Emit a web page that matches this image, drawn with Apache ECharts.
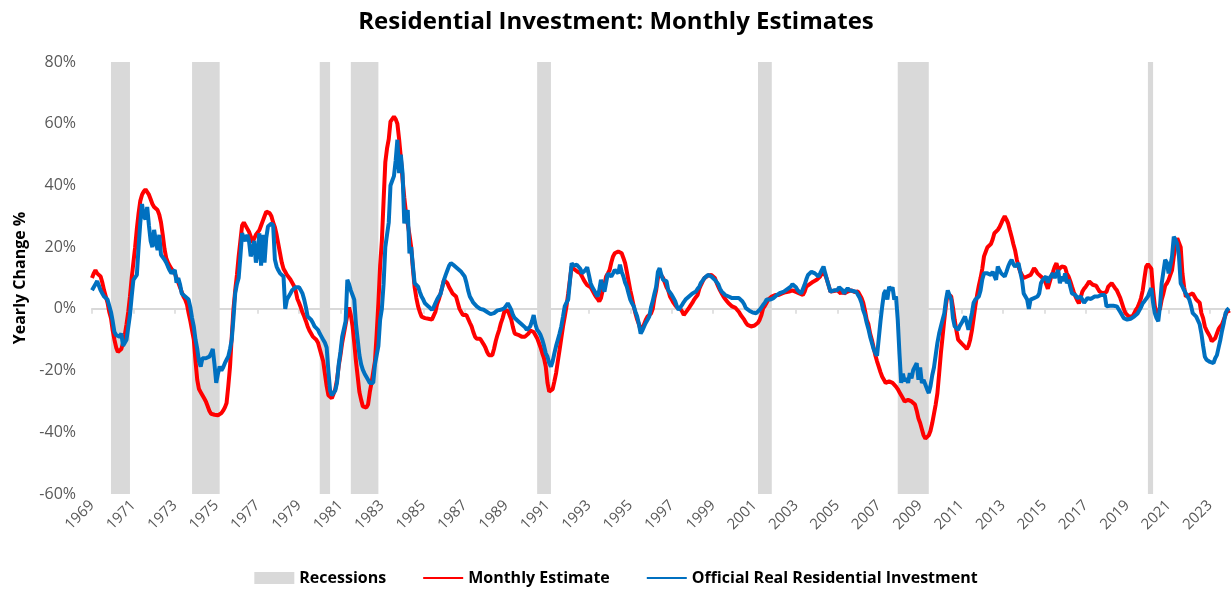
<!DOCTYPE html>
<html>
<head>
<meta charset="utf-8">
<script src="https://cdn.jsdelivr.net/npm/echarts@6/dist/echarts.min.js"></script>
<style>
  html, body { margin: 0; padding: 0; background: #fff; }
  #chart { width: 1232px; height: 591px; }
</style>
</head>
<body>
<div id="chart"></div>
<script>
// first and last year shown, monthly points
const firstYear = 1969;
const lastYear = 2023;

// NBER recessions, shaded
const recessions = [
  ['1969-12', '1970-11'],
  ['1973-11', '1975-03'],
  ['1980-01', '1980-07'],
  ['1981-07', '1982-11'],
  ['1990-07', '1991-03'],
  ['2001-03', '2001-11'],
  ['2007-12', '2009-06'],
  ['2020-01', '2020-04']
];

// yearly change %, one row per year (Jan..Dec)
const monthlyEstimate = [
  10, 11.5, 12.5, 11.5, 11, 10.5, 8.5, 6, 4, 2, -1, -3,                  // 1969
  -7, -10, -12.5, -14, -14.4, -13, -11, -8.5, -5, -1, 4, 10,             // 1970
  15, 20, 26, 31, 35, 37, 38, 38.7, 38.5, 37, 35.5, 34,                  // 1971
  33, 32.5, 32, 30.5, 28, 24, 19.5, 16.5, 15, 14, 13, 12.5,              // 1972
  11.5, 10, 8.5, 7, 5.5, 4, 3, 1.5, -1.4, -4, -7, -10,                   // 1973
  -17, -23, -26, -27, -28, -29, -30, -31.5, -33, -34, -34.3, -34.3,      // 1974
  -34.3, -34.5, -34.3, -33.8, -33, -32, -30.5, -25, -18.7, -9, 0, 6,     // 1975
  11, 17, 22, 27, 28, 27.5, 26, 25, 23.5, 21.5, 22, 24,                  // 1976
  24.5, 25.5, 27, 28.5, 30, 31.5, 32, 31, 30, 28, 26.5, 24,              // 1977
  21, 18, 15, 13, 12, 11, 10.5, 9.5, 9, 7.5, 6, 3.3,                     // 1978
  2, 0.5, -1.2, -2.5, -4, -5.7, -7, -8, -9, -9.5, -10, -11,              // 1979
  -13, -15, -17, -21, -25, -28, -28.6, -29, -27.5, -26, -23, -18.5,      // 1980
  -15, -11, -8, -5, -2, 0.5, -2, -5.5, -11, -17, -22, -27,               // 1981
  -29.5, -31.6, -32, -32, -31, -27, -24, -20.5, -17, -8, 2, 14,          // 1982
  22, 35, 47.5, 52, 55, 60.7, 61.5, 62.3, 61.5, 60, 55, 49,              // 1983
  42, 36, 31, 27.5, 24, 20, 13, 7, 3.5, 0.8, -1, -2.5,                   // 1984
  -2.7, -3, -3, -3.2, -3.5, -3.5, -3, -1, 1.5, 3, 5, 7,                  // 1985
  9.4, 9, 8.3, 7, 6, 5, 4.5, 4, 2, 0, -1, -2,                            // 1986
  -1.4, -2, -2.5, -4.5, -5.7, -7.5, -9, -9.7, -10, -9.7, -9.5, -11.5,    // 1987
  -12.5, -14, -15, -15, -15, -13, -10.5, -8.5, -6.8, -4.6, -3, -0.9,     // 1988
  -0.3, -0.5, -2, -3.5, -6, -8, -8.2, -8.4, -8.8, -9, -9.3, -9,          // 1989
  -8.5, -8, -7, -6.8, -7.5, -8, -9.5, -11, -12.5, -14.4, -16, -18.7,     // 1990
  -24, -26.8, -26.5, -26, -23.5, -20.8, -17, -13.3, -9.5, -5.7, -2.5, 0.8, // 1991
  5, 9.4, 13.7, 13, 12.6, 12.2, 11.8, 11.5, 10.5, 9.4, 8.5, 7.7,         // 1992
  7.3, 7, 6, 5, 4, 3.3, 2.4, 3.5, 6, 8, 10.5, 11.5,                      // 1993
  12.6, 15, 17, 18, 18.6, 18.6, 18.3, 18, 16.5, 14.8, 12, 9,             // 1994
  6, 3.5, 0.8, -1.5, -3.5, -5, -6.8, -6, -5, -3.5, -2.5, -2,             // 1995
  -1.5, 0, 3.5, 6, 10, 11.5, 11.5, 10, 8.5, 7, 6, 4,                     // 1996
  3, 2, 1.2, 0.5, 0.2, 0, -0.8, -2, -1.5, -0.5, 0.3, 0.8,                // 1997
  2, 3, 3.8, 4.5, 6.5, 7.8, 9, 10, 10.5, 10.8, 11, 11,                   // 1998
  10.5, 10, 8.5, 7.2, 6, 5, 4, 3.2, 2.5, 1.8, 1.2, 0.8,                  // 1999
  0.8, 0.3, -0.3, -1, -2, -2.5, -3.5, -4.5, -5.2, -5.5, -5.7, -5.5,      // 2000
  -5.4, -5.2, -4.5, -3.5, -2, 0.2, 1, 2, 3, 3.5, 4, 4.5,                 // 2001
  4.5, 4.5, 4.5, 4.8, 5, 5.2, 5.4, 5.6, 5.6, 5.8, 6, 5.8,                // 2002
  5.5, 5, 5, 4.5, 4.5, 5.5, 7.2, 7.5, 8, 8.3, 8.8, 9.4,                  // 2003
  9.4, 9.4, 10.5, 11.5, 12, 11, 9.4, 7.5, 5.6, 5.6, 5.8, 6,              // 2004
  6, 5.5, 5, 6, 5, 4.5, 5.6, 6, 6, 6, 5.5, 5.5,                          // 2005
  5.6, 5, 3.5, 2, -0.5, -3.5, -5, -8, -10, -12.5, -15, -17,              // 2006
  -18.7, -20.5, -22, -23, -24, -23.8, -23.5, -23.8, -24, -24.5, -25.2, -26, // 2007
  -27, -27.5, -29, -30, -29.7, -29.5, -30, -30, -30.5, -31, -33, -35.5,  // 2008
  -37, -39, -41, -42, -42.4, -41, -39.5, -37, -34, -31, -27.3, -21,      // 2009
  -14.4, -9, -3.5, 1.5, 5, 5.5, 4, 0.5, -3.5, -7, -10, -10.5,            // 2010
  -11.2, -11.7, -12.3, -13, -12, -10, -7, -3, 1, 4.5, 7.5, 10,           // 2011
  13, 17, 18.5, 20, 20.5, 21, 22.5, 24.5, 25, 25.6, 26.5, 27.7,          // 2012
  29, 30, 29, 27.7, 25.5, 23.4, 21, 19, 16, 13.7, 12, 11,                // 2013
  10, 10, 10.5, 10.5, 11, 12, 13.2, 12.5, 11.5, 11, 10.5, 10,            // 2014
  9.5, 8.9, 6.5, 7, 10.5, 12, 13.7, 14.8, 12.6, 13, 13.7, 13.5,          // 2015
  13.5, 11.5, 10.5, 9, 7.2, 5.5, 4, 2.8, 1.8, 3.5, 5.6, 6.5,             // 2016
  7.2, 8, 8.9, 8.3, 7.8, 7.8, 7.5, 6.5, 5.6, 5.3, 5, 5,                  // 2017
  5.5, 7.2, 7.8, 8.3, 7.5, 6.7, 6, 5.6, 3.5, 1.8, 0, -1.4,               // 2018
  -2, -2.5, -2.5, -2.5, -1.5, -0.3, 0.5, 1.8, 3.5, 6, 10, 13.7,          // 2019
  14.5, 14.8, 13, 6, 1, -1.4, -1.4, 0, 3, 5, 7.5, 8.3,                   // 2020
  9.4, 11, 12.6, 17, 21, 22.9, 22.5, 20, 11.5, 7, 4, 4.3,                // 2021
  4.5, 4.8, 5, 4, 3, 3, 2, -1.4, -3, -5.7, -7, -8,                       // 2022
  -9, -10.5, -11, -9.5, -8, -6.5, -5.7, -5, -4.6, -2, -0.3, -1.4         // 2023
];

const officialRRI = [
  6, 6.5, 8, 9, 7.5, 6, 5, 4, 3.5, 3, 1, -1,                             // 1969
  -4, -7.5, -8.5, -9, -9, -8, -12, -12.5, -10, -6, -2, 4,                // 1970
  9.4, 9.4, 11, 20, 28, 34, 30, 29, 33, 27, 22, 20,                      // 1971
  25.6, 22, 19, 24, 17.5, 17, 16, 15, 13.7, 12.5, 11.5, 12,              // 1972
  12.6, 8.5, 10, 8, 5, 4.5, 4, 3.5, 3, 0.5, -3, -5.7,                    // 1973
  -10, -13, -17, -18.7, -16, -15.4, -16, -16.5, -15.5, -14.5, -13, -18,  // 1974
  -24, -21, -18.7, -20, -19, -17.6, -16.5, -15.4, -13, -10, -3, 5,       // 1975
  8, 10, 17, 24.5, 23, 22, 24, 22, 17, 19, 22, 15,                       // 1976
  18, 24.5, 14, 24, 15, 23, 26.7, 27, 27.7, 27, 16, 13.7,                // 1977
  12.5, 11.5, 11, 10.5, 0, 3, 4, 5, 6, 6.5, 7, 7.2,                      // 1978
  7, 6, 5, 3, 0.5, -2.5, -3, -3.5, -4.5, -5.7, -6, -6.8,                 // 1979
  -8, -9, -10, -11, -12.5, -20, -26.5, -28, -28.4, -26.5, -24, -18,      // 1980
  -14, -9, -9.5, -4, 9.4, 8, 6, 4.5, 3, -5, -10, -15,                    // 1981
  -18, -19.8, -21, -22, -23, -24, -24, -24, -18, -17.6, -12, -3.5,       // 1982
  0, 8, 20, 24, 28, 40, 41.5, 43, 48, 54.8, 44, 50,                      // 1983
  44, 27.7, 30, 32, 18, 20, 14, 8.3, 7.8, 7.2, 5.5, 4,                   // 1984
  3, 1.8, 1.2, 0.8, 0.3, -0.3, 0.5, 1.8, 3, 4, 4.8, 5,                   // 1985
  9.4, 11, 12.5, 14, 14.8, 14.5, 14, 13.7, 13, 12.6, 12, 11.5,           // 1986
  10.5, 8.5, 6, 4, 3, 2, 1.5, 0.8, 0.2, 0, -0.3, -0.3,                   // 1987
  -0.5, -1, -1.4, -1.7, -2, -1.4, -0.9, -0.5, -0.3, -0.3, -0.2, 0.2,     // 1988
  1, 1.8, 0.8, -0.3, -2, -3, -3.5, -4, -4.5, -5, -5.5, -6,               // 1989
  -6.8, -6.5, -5.7, -4, -2, -5, -6.8, -7.5, -8.5, -10, -12, -14.4,       // 1990
  -15.5, -17.6, -18.7, -17, -14.4, -12, -10, -8, -5.7, -2.5, 0.8, 2,     // 1991
  3, 9, 14.8, 14, 13.7, 14.3, 14.8, 13, 11.5, 12, 12.6, 13.5,            // 1992
  11, 8.3, 7, 6, 5, 4, 6, 9.4, 7.5, 5.6, 8.5, 11.5,                      // 1993
  11, 10.5, 11.5, 12.6, 12, 11.5, 14.3, 12, 10.5, 8.5, 7.2, 5,           // 1994
  3, 1.8, 0.8, -1, -2.5, -5, -8, -7, -5.7, -4.5, -3.5, -2.5,             // 1995
  0.5, 2.5, 5, 7.2, 12, 13.2, 11, 9.4, 9.2, 9, 6, 5.3,                   // 1996
  4.5, 3.5, 2.5, 0.8, -0.3, 0.5, 1.3, 2.2, 3, 3.5, 4, 4.5,               // 1997
  5, 5.3, 5.6, 6.5, 7.2, 8.5, 9.2, 10, 10.5, 11, 11.5, 10.5,             // 1998
  10, 9.4, 9.4, 8, 6.5, 5.6, 5, 4.5, 4.2, 4, 3.8, 3.5,                   // 1999
  3.5, 3.5, 3.5, 3.5, 3, 2.4, 1.5, 0.2, -0.3, -0.6, -0.9, -1.2,          // 2000
  -1.4, -1.4, -0.8, -0.3, 0.5, 1.3, 2, 3, 3, 3, 3, 3.5,                  // 2001
  4, 4.5, 5, 5.2, 5.4, 5.6, 6, 6.4, 6.7, 7.2, 8, 8.3,                    // 2002
  7, 6, 5.5, 5, 5.5, 7.8, 9.5, 11, 11.5, 12, 11.8, 11.5,                 // 2003
  11.5, 10.5, 11.5, 12.6, 13.7, 11.5, 9.4, 7.5, 5.6, 5.8, 6, 6.5,        // 2004
  6, 7, 7.2, 6, 5, 6, 6.7, 6, 5.6, 5.8, 6, 5.5,                          // 2005
  4.5, 3.5, 2, -0.5, -2, -4.5, -6.5, -9, -11, -13, -14.3, -15.2,         // 2006
  -15, -4, 0.8, 5, 6, 3, 7.2, 6, 7, 3, 4, -3.5,                          // 2007
  -14.4, -24, -21, -23.5, -22.5, -24, -20.8, -22.5, -19.8, -20, -17.6, -23, // 2008
  -19, -24, -23, -24.5, -26, -27.3, -25, -21.5, -19, -15, -11, -8,       // 2009
  -5.7, -3.5, -1.4, 3, 6, 5.5, 3, -3, -5.7, -6.3, -6.8, -5.5,            // 2010
  -4.6, -3.5, -2.5, -4.5, -6.8, -4, -1.4, 2, 3, 3.5, 4, 6,               // 2011
  9.5, 11.5, 11.5, 11.5, 11.2, 11, 12, 12.6, 9.4, 13.7, 12.5, 11.5,      // 2012
  11, 10.5, 12, 13.7, 15, 15.9, 14.5, 13.7, 14.3, 14.8, 12, 9.4,         // 2013
  5, 4, 3, 0, 3, 3, 3.5, 3.5, 4, 5, 8.3, 9.4,                            // 2014
  9.8, 10.5, 8.5, 10, 10.8, 11.5, 10, 9.4, 12.6, 8.3, 10.5, 9,           // 2015
  11.5, 8.3, 9.4, 7.2, 5, 5, 4.5, 3.5, 3.5, 4, 4.5, 2,                   // 2016
  2, 3.5, 3, 3.2, 3.5, 4, 4, 4, 4.2, 4.5, 5, 4.5,                        // 2017
  0.8, 1.3, 1, 0.8, 1, 1.3, 0.8, 0.2, -1, -2, -3, -3.5,                  // 2018
  -3.5, -3.5, -3.2, -3, -2.5, -2, -1.5, -0.9, 0.5, 1.8, 2.5, 3,          // 2019
  4, 5.5, 6.7, 2, -1.4, -3, -4, 0.8, 8.3, 8.5, 15.9, 15,                 // 2020
  11.5, 14, 17, 23.4, 22.4, 21, 17, 8.3, 7.2, 6, 5, 4,                   // 2021
  3, 1, -1.4, -2, -2.5, -3, -5, -8, -12, -15.5, -16.5, -17,              // 2022
  -17.2, -17.6, -17.6, -16, -15, -12.5, -10, -7, -4.5, -1.4, -0.3, 0.2   // 2023
];

const months = [];
for (let y = firstYear; y <= lastYear; y++) {
  for (let m = 1; m <= 12; m++) months.push(y + '-' + String(m).padStart(2, '0'));
}

const font = '"Open Sans", "Noto Sans", sans-serif';
const chart = echarts.init(document.getElementById('chart'));

chart.setOption({
  backgroundColor: '#fff',
  animation: false,
  textStyle: { fontFamily: font },
  title: {
    text: 'Residential Investment: Monthly Estimates',
    left: 'center',
    top: 5,
    textStyle: { fontSize: 24, fontWeight: 'bold', color: '#000', fontFamily: font }
  },
  legend: {
    bottom: 0,
    left: 'center',
    itemWidth: 40,
    itemHeight: 12,
    itemGap: 36,
    itemStyle: { opacity: 0 },
    textStyle: { fontSize: 16, fontWeight: 'bold', color: '#000' },
    data: [
      { name: 'Recessions', icon: 'rect', itemStyle: { opacity: 1 } },
      'Monthly Estimate',
      'Official Real Residential Investment'
    ]
  },
  grid: { left: 92, right: 3, top: 62, bottom: 97 },
  xAxis: [
    {
      type: 'category',
      data: months,
      boundaryGap: false,
      axisLine: { onZero: true, lineStyle: { color: '#d9d9d9', width: 2 } },
      axisTick: { interval: 23, length: 5, lineStyle: { color: '#d9d9d9', width: 1.5 } },
      axisLabel: { show: false },
      splitLine: { show: false }
    },
    {
      type: 'category',
      data: months,
      position: 'bottom',
      boundaryGap: false,
      axisLine: { show: false, onZero: false },
      axisTick: { show: false },
      axisLabel: {
        interval: 23,
        rotate: 45,
        margin: 9,
        color: '#595959',
        fontSize: 15,
        formatter: v => v.slice(0, 4)
      },
      splitLine: { show: false }
    }
  ],
  yAxis: {
    type: 'value',
    min: -60,
    max: 80,
    interval: 20,
    name: 'Yearly Change %',
    nameLocation: 'middle',
    nameGap: 64,
    nameTextStyle: { fontSize: 16, fontWeight: 'bold', color: '#000' },
    axisLine: { show: false },
    axisTick: { show: false },
    splitLine: { show: false },
    axisLabel: { formatter: '{value}%', color: '#595959', fontSize: 16, margin: 16 }
  },
  series: [
    {
      name: 'Recessions',
      type: 'line',
      data: [],
      z: 1,
      itemStyle: { color: '#d9d9d9' },
      markArea: {
        silent: true,
        itemStyle: { color: '#d9d9d9', opacity: 1 },
        data: recessions.map(r => [{ xAxis: r[0] }, { xAxis: r[1] }])
      }
    },
    {
      name: 'Monthly Estimate',
      type: 'line',
      data: monthlyEstimate,
      showSymbol: false,
      symbol: 'none',
      z: 3,
      lineStyle: { color: '#ff0000', width: 4 },
      itemStyle: { color: '#ff0000' }
    },
    {
      name: 'Official Real Residential Investment',
      type: 'line',
      data: officialRRI,
      showSymbol: false,
      symbol: 'none',
      z: 4,
      lineStyle: { color: '#0070c0', width: 4 },
      itemStyle: { color: '#0070c0' }
    }
  ]
});
</script>
</body>
</html>
